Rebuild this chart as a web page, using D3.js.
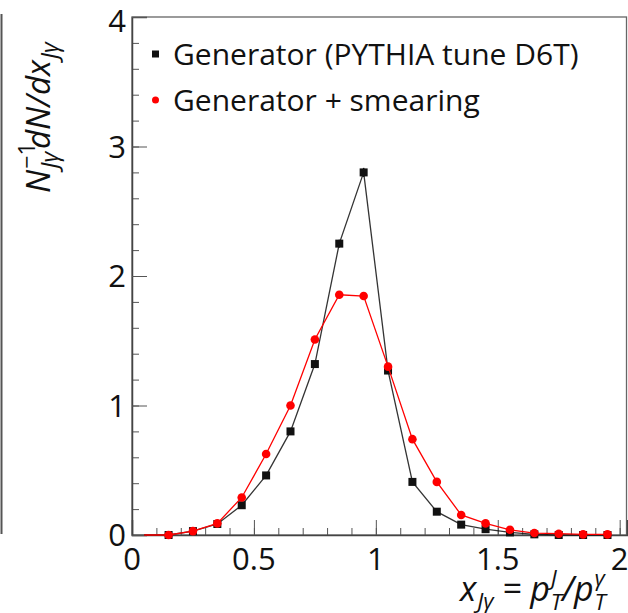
<!DOCTYPE html>
<html>
<head>
<meta charset="utf-8">
<script src="https://cdn.jsdelivr.net/npm/d3@7"></script>
<style>
  html, body { margin: 0; padding: 0; background: #fff; }
  svg { display: block; font-family: "Open Sans", "Noto Sans", sans-serif; }
</style>
</head>
<body>
<svg id="chart" width="628" height="613"></svg>
<script>
// bin centres of the x_Jgamma histogram
const binCenters = [0.05, 0.15, 0.25, 0.35, 0.45, 0.55, 0.65, 0.75, 0.85, 0.95,
                    1.05, 1.15, 1.25, 1.35, 1.45, 1.55, 1.65, 1.75, 1.85, 1.95];
const generator = [0, 0, 0.03, 0.085, 0.23, 0.46, 0.80, 1.32, 2.25, 2.80,
                   1.27, 0.41, 0.18, 0.08, 0.045, 0.02, 0.005, 0, 0, 0];
const generatorErr = [0, 0, 0.005, 0.01, 0.015, 0.02, 0.02, 0.025, 0.03, 0.035,
                      0.025, 0.015, 0.01, 0.008, 0.005, 0.004, 0.002, 0, 0, 0];
const smeared = [0, 0, 0.03, 0.09, 0.29, 0.625, 1.0, 1.51, 1.855, 1.845,
                 1.30, 0.74, 0.41, 0.155, 0.09, 0.04, 0.015, 0.01, 0.005, 0.005];
const legendLabels = ["Generator (PYTHIA tune D6T)", "Generator + smearing"];
const xMajorTicks = [0, 0.5, 1, 1.5, 2];
const yMajorTicks = [0, 1, 2, 3, 4];

const svg = d3.select("#chart");
const margin = { top: 17, right: 1, bottom: 78, left: 132 };
const width = 628, height = 613;

const x = d3.scaleLinear().domain([0, 2.03]).range([margin.left, width - margin.right]);
const y = d3.scaleLinear().domain([0, 4]).range([height - margin.bottom, margin.top]);

// stray frame line at the far left of the original crop
svg.append("line")
    .attr("x1", 1.5).attr("x2", 1.5)
    .attr("y1", y(4) - 3).attr("y2", y(0) - 1)
    .attr("stroke", "#555").attr("stroke-width", 2);

// frame
svg.append("rect")
    .attr("x", x(0)).attr("y", y(4))
    .attr("width", x(2.03) - x(0) - 0.5).attr("height", y(0) - y(4))
    .attr("fill", "none").attr("stroke", "#666").attr("stroke-width", 1.3);

// x axis with minor ticks
const xMinor = d3.range(0, 2.001, 0.1).map(v => +v.toFixed(2));
svg.append("g")
    .attr("transform", `translate(0,${y(0)})`)
    .call(d3.axisTop(x).tickValues(xMinor).tickSize(7).tickFormat(""))
    .call(g => g.select(".domain").remove())
    .call(g => g.selectAll("line").attr("stroke", "#555"));
svg.append("g")
    .attr("transform", `translate(0,${y(0)})`)
    .call(d3.axisTop(x).tickValues(xMajorTicks).tickSize(15).tickFormat(""))
    .call(g => g.select(".domain").attr("stroke", "#444").attr("stroke-width", 1.5))
    .call(g => g.selectAll("line").attr("stroke", "#555"));
svg.append("g").selectAll("text").data(xMajorTicks).join("text")
    .attr("x", d => x(d)).attr("y", y(0) + 35)
    .attr("text-anchor", "middle")
    .attr("font-size", 31).attr("fill", "#111")
    .text(d => d);

// y axis with minor ticks
const yMinor = d3.range(0, 4.001, 0.2).map(v => +v.toFixed(2));
svg.append("g")
    .attr("transform", `translate(${x(0)},0)`)
    .call(d3.axisRight(y).tickValues(yMinor).tickSize(7).tickFormat(""))
    .call(g => g.select(".domain").remove())
    .call(g => g.selectAll("line").attr("stroke", "#555"));
svg.append("g")
    .attr("transform", `translate(${x(0)},0)`)
    .call(d3.axisRight(y).tickValues(yMajorTicks).tickSize(15).tickFormat(""))
    .call(g => g.select(".domain").attr("stroke", "#444").attr("stroke-width", 1.5))
    .call(g => g.selectAll("line").attr("stroke", "#555"));
svg.append("g").selectAll("text").data(yMajorTicks).join("text")
    .attr("x", x(0) - 6).attr("y", d => (d === 4 ? y(d) + 4 : y(d)) + 11)
    .attr("text-anchor", "end")
    .attr("font-size", 31).attr("fill", "#111")
    .text(d => d);

// series
const series = [
  { values: generator, errors: generatorErr, color: "#111", marker: "square" },
  { values: smeared, errors: null, color: "#f00", marker: "circle" }
];
const line = d3.line().x(d => x(d[0])).y(d => y(d[1]));

series.forEach(s => {
  const pts = binCenters.map((c, i) => [c, s.values[i], s.errors ? s.errors[i] : 0]);
  svg.append("path")
      .datum(pts)
      .attr("d", line)
      .attr("fill", "none")
      .attr("stroke", s.color)
      .attr("stroke-width", 1.3)
      .attr("stroke-opacity", s.marker === "square" ? 0.85 : 1);
  const shown = pts.filter(p => p[0] > 0.1);
  svg.append("g").selectAll("line").data(shown.filter(p => p[2] > 0)).join("line")
      .attr("x1", d => x(d[0])).attr("x2", d => x(d[0]))
      .attr("y1", d => y(d[1] - d[2])).attr("y2", d => y(d[1] + d[2]))
      .attr("stroke", s.color).attr("stroke-width", 1.5);
  if (s.marker === "square") {
    svg.append("g").selectAll("rect").data(shown).join("rect")
        .attr("x", d => x(d[0]) - 4).attr("y", d => y(d[1]) - 4)
        .attr("width", 8).attr("height", 8)
        .attr("fill", s.color);
  } else {
    svg.append("g").selectAll("circle").data(shown).join("circle")
        .attr("cx", d => x(d[0])).attr("cy", d => y(d[1]))
        .attr("r", 4.3)
        .attr("fill", s.color);
  }
});

// legend
const legend = svg.append("g").attr("transform", `translate(${x(0)},0)`);
legendLabels.forEach((label, i) => {
  const cy = 54 + i * 46;
  if (i === 0) {
    legend.append("rect").attr("x", 20).attr("y", cy - 3.5)
        .attr("width", 7).attr("height", 7).attr("fill", "#111");
  } else {
    legend.append("circle").attr("cx", 23.5).attr("cy", cy).attr("r", 3.5).attr("fill", "#f00");
  }
  legend.append("text")
      .attr("x", 41).attr("y", cy + 11)
      .attr("font-size", 30).attr("fill", "#111")
      .text(label);
});

// helper to lay out a run of text pieces with sub/superscripts
function richText(g, pieces, size, ratio) {
  let pos = 0;
  pieces.forEach(p => {
    const fs = p.small ? size * ratio : size;
    const t = g.append("text")
        .attr("x", pos + (p.dx || 0))
        .attr("y", p.dy || 0)
        .attr("font-size", fs)
        .attr("font-style", p.italic ? "italic" : "normal")
        .attr("fill", "#111")
        .text(p.text);
    const w = t.node().getComputedTextLength();
    if (p.advance !== false) pos += (p.dx || 0) + w + (p.gap || 0);
  });
  return pos;
}

// y title
const yTitle = svg.append("g").attr("transform", `translate(50,193) rotate(-90)`);
richText(yTitle, [
  { text: "N", italic: true, gap: 1 },
  { text: "−1", small: true, dy: -15, advance: false },
  { text: "Jγ", small: true, italic: true, dy: 8, gap: 3 },
  { text: "dN/dx", italic: true, gap: 1 },
  { text: "Jγ", small: true, italic: true, dy: 8 }
], 33, 0.7);

// x title
const xTitle = svg.append("g").attr("transform", `translate(460,601)`);
richText(xTitle, [
  { text: "x", italic: true, gap: 1 },
  { text: "Jγ", small: true, italic: true, dy: 8, gap: 9 },
  { text: "=", gap: 8 },
  { text: "p", italic: true, gap: 1 },
  { text: "J", small: true, italic: true, dy: -15, advance: false },
  { text: "T", small: true, italic: true, dy: 9 },
  { text: "/", italic: true },
  { text: "p", italic: true, gap: 1 },
  { text: "γ", small: true, italic: true, dy: -15, advance: false },
  { text: "T", small: true, italic: true, dy: 9 }
], 34, 0.66);
</script>
</body>
</html>
